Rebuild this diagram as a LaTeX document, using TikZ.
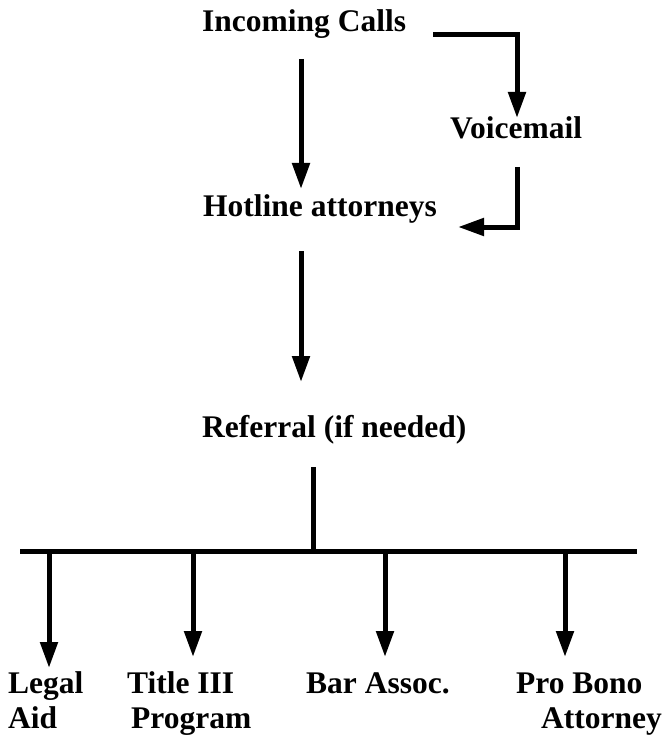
\documentclass[tikz,border=0pt]{standalone}
\usepackage{fontspec}
\setmainfont{Liberation Serif}
\usetikzlibrary{arrows.meta}
\begin{document}
\begin{tikzpicture}[x=1pt,y=-1pt,
  lbl/.style={anchor=base west,inner sep=0pt,font=\fontsize{31.5}{35}\selectfont\bfseries},
  conn/.style={line width=5pt,line join=miter},
  arr/.style={conn,-{Triangle[length=26pt,width=17pt]}}]
\useasboundingbox (0,0) rectangle (665,735);
% labels
\node[lbl] (ic) at (202,32) {Incoming Calls};
\node[lbl] (vm) at (450,139) {Voicemail};
\node[lbl] (ha) at (203,216) {Hotline attorneys};
\node[lbl] (rf) at (202,437) {Referral (if needed)};
\node[lbl] (la1) at (8,693) {Legal};
\node[lbl] (la2) at (8,728) {Aid};
\node[lbl] (ti1) at (127,693) {Title III};
\node[lbl] (ti2) at (131,728) {Program};
\node[lbl] (ba) at (306,693) {Bar Assoc.};
\node[lbl] (pb1) at (516,693) {Pro Bono};
\node[lbl] (pb2) at (541,728) {Attorney};
% connector points
\coordinate (icS) at (301,59);
\coordinate (haN) at (301,189);
\coordinate (icE) at (433,35);
\coordinate (vmN) at (517,118);
\coordinate (vmS) at (517,167);
\coordinate (haE) at (458,227);
\coordinate (haS) at (301,251);
\coordinate (rfN) at (301,382);
\coordinate (rfS) at (313,467);
\coordinate (busL) at (20,551);
\coordinate (busR) at (637,551);
\coordinate (bus) at (313,551);
\coordinate (laN) at (49,668);
\coordinate (tiN) at (193,657);
\coordinate (baN) at (385,657);
\coordinate (pbN) at (565,657);
% connectors
\draw[arr] (icS) -- (haN);
\draw[arr] (icE) -| (vmN);
\draw[arr] (vmS) |- (haE);
\draw[arr] (haS) -- (rfN);
\draw[conn] (rfS) -- (bus);
\draw[conn] (busL) -- (busR);
\draw[arr] (laN |- bus) -- (laN);
\draw[arr] (tiN |- bus) -- (tiN);
\draw[arr] (baN |- bus) -- (baN);
\draw[arr] (pbN |- bus) -- (pbN);
\end{tikzpicture}
\end{document}
